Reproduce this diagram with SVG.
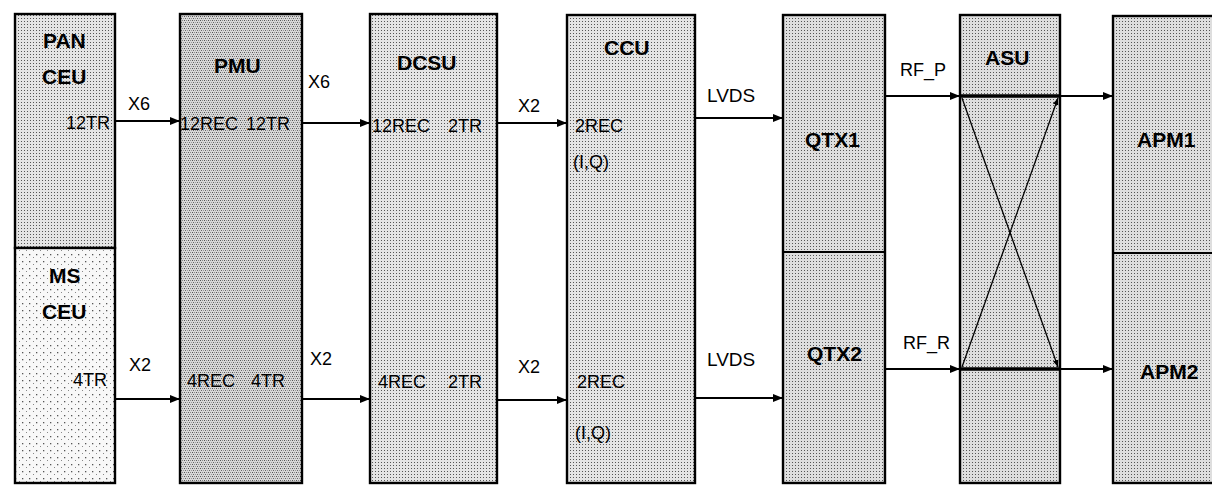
<svg xmlns="http://www.w3.org/2000/svg" width="1212" height="486" viewBox="0 0 1212 486">
<defs>
<pattern id="pLight" width="7" height="7" patternUnits="userSpaceOnUse">
<rect width="7" height="7" fill="#f8f8f8"/>
<rect x="1" y="2" width="1.3" height="1.3" fill="#555"/>
<rect x="5" y="5" width="1" height="1" fill="#888"/>
</pattern>
<pattern id="pMed" width="3" height="3" patternUnits="userSpaceOnUse">
<rect width="3" height="3" fill="#e4e4e4"/>
<rect x="0" y="0" width="1" height="1" fill="#555"/>
</pattern>
<pattern id="pMed2" width="3" height="3" patternUnits="userSpaceOnUse">
<rect width="3" height="3" fill="#dedede"/>
<rect x="0" y="0" width="1" height="1" fill="#555"/>
</pattern>
<pattern id="pDark" width="4" height="4" patternUnits="userSpaceOnUse">
<rect width="4" height="4" fill="#d8d8d8"/>
<rect x="0" y="0" width="1" height="1" fill="#555"/>
<rect x="2" y="0" width="1" height="1" fill="#888"/>
<rect x="1" y="2" width="1" height="1" fill="#666"/>
<rect x="3" y="2" width="1" height="1" fill="#999"/>
</pattern>
<marker id="arr" viewBox="0 0 10 10" refX="10" refY="5" markerWidth="10" markerHeight="10" markerUnits="userSpaceOnUse" orient="auto">
<path d="M0,1 L10,5 L0,9 Z" fill="#000"/>
</marker>
<marker id="arrS" viewBox="0 0 10 10" refX="10" refY="5" markerWidth="7" markerHeight="7" markerUnits="userSpaceOnUse" orient="auto">
<path d="M0,1 L10,5 L0,9 Z" fill="#000"/>
</marker>
</defs>
<style>
.box{stroke:#000;stroke-width:2.4}
.div{stroke:#000;stroke-width:2}
.b{font-family:"Liberation Sans",Arial,sans-serif;font-weight:bold;font-size:21px;fill:#000}
.t{font-family:"Liberation Sans",Arial,sans-serif;font-size:18px;fill:#000}
.c{stroke:#000;stroke-width:2;fill:none}
.x{stroke:#000;stroke-width:1.3;fill:none}
.thick{stroke:#000;stroke-width:3.5}
</style>
<rect width="1212" height="486" fill="#fff"/>

<g id="pan-ceu">
<rect x="15" y="14" width="100" height="234" fill="url(#pMed)" class="box"/>
<text class="b" x="43" y="48">PAN</text>
<text class="b" x="42" y="84">CEU</text>
<text class="t" x="66" y="129">12TR</text>
</g>
<g id="ms-ceu">
<rect x="15" y="248" width="100" height="235" fill="url(#pLight)" class="box"/>
<text class="b" x="49" y="283">MS</text>
<text class="b" x="42" y="319">CEU</text>
<text class="t" x="73" y="386">4TR</text>
</g>
<g id="pmu">
<rect x="180" y="14" width="122" height="469" fill="url(#pDark)" class="box"/>
<text class="b" x="214" y="73">PMU</text>
<text class="t" x="180" y="130">12REC</text>
<text class="t" x="246" y="130">12TR</text>
<text class="t" x="187" y="387">4REC</text>
<text class="t" x="251" y="387">4TR</text>
</g>
<g id="dcsu">
<rect x="370" y="14" width="127" height="469" fill="url(#pMed)" class="box"/>
<text class="b" x="397" y="70">DCSU</text>
<text class="t" x="372" y="132">12REC</text>
<text class="t" x="448" y="132">2TR</text>
<text class="t" x="378" y="388">4REC</text>
<text class="t" x="448" y="388">2TR</text>
</g>
<g id="ccu">
<rect x="567" y="15" width="128" height="468" fill="url(#pMed)" class="box"/>
<text class="b" x="604" y="55">CCU</text>
<text class="t" x="575" y="132">2REC</text>
<text class="t" x="573" y="168">(I,Q)</text>
<text class="t" x="577" y="388">2REC</text>
<text class="t" x="575" y="439">(I,Q)</text>
</g>
<g id="qtx">
<rect x="783" y="15" width="102" height="468" fill="url(#pMed2)" class="box"/>
<line x1="783" y1="252" x2="885" y2="252" class="div"/>
<text class="b" x="805" y="147">QTX1</text>
<text class="b" x="807" y="361">QTX2</text>
</g>
<g id="asu">
<rect x="960" y="15" width="100" height="468" fill="url(#pMed2)" class="box"/>
<text class="b" x="985" y="65">ASU</text>
</g>
<g id="apm">
<rect x="1113" y="16" width="110" height="467" fill="url(#pMed2)" class="box"/>
<line x1="1113" y1="253" x2="1212" y2="253" class="div"/>
<text class="b" x="1137" y="147">APM1</text>
<text class="b" x="1140" y="379">APM2</text>
</g>

<g id="connectors">
<line x1="115" y1="121" x2="180" y2="121" class="c" marker-end="url(#arr)"/>
<line x1="302" y1="123" x2="370" y2="123" class="c" marker-end="url(#arr)"/>
<line x1="497" y1="123" x2="567" y2="123" class="c" marker-end="url(#arr)"/>
<line x1="695" y1="118" x2="783" y2="118" class="c" marker-end="url(#arr)"/>
<line x1="885" y1="96" x2="960" y2="96" class="c" marker-end="url(#arr)"/>
<line x1="960" y1="96" x2="1060" y2="96" class="thick"/>
<line x1="1060" y1="96" x2="1113" y2="96" class="c" marker-end="url(#arr)"/>

<line x1="115" y1="399" x2="180" y2="399" class="c" marker-end="url(#arr)"/>
<line x1="302" y1="399" x2="370" y2="399" class="c" marker-end="url(#arr)"/>
<line x1="497" y1="400" x2="567" y2="400" class="c" marker-end="url(#arr)"/>
<line x1="695" y1="398" x2="783" y2="398" class="c" marker-end="url(#arr)"/>
<line x1="885" y1="369" x2="960" y2="369" class="c" marker-end="url(#arr)"/>
<line x1="960" y1="369" x2="1060" y2="369" class="thick"/>
<line x1="1060" y1="369" x2="1113" y2="369" class="c" marker-end="url(#arr)"/>

<line x1="962" y1="98" x2="1058" y2="367" class="x" marker-end="url(#arrS)"/>
<line x1="962" y1="367" x2="1058" y2="98" class="x" marker-end="url(#arrS)"/>

<text class="t" x="128" y="110">X6</text>
<text class="t" x="308" y="88">X6</text>
<text class="t" x="518" y="112">X2</text>
<text class="t" x="707" y="102" style="font-size:19px">LVDS</text>
<text class="t" x="900" y="76">RF_P</text>
<text class="t" x="129" y="371">X2</text>
<text class="t" x="310" y="365">X2</text>
<text class="t" x="518" y="373">X2</text>
<text class="t" x="707" y="366" style="font-size:19px">LVDS</text>
<text class="t" x="903" y="349">RF_R</text>
</g>
</svg>
